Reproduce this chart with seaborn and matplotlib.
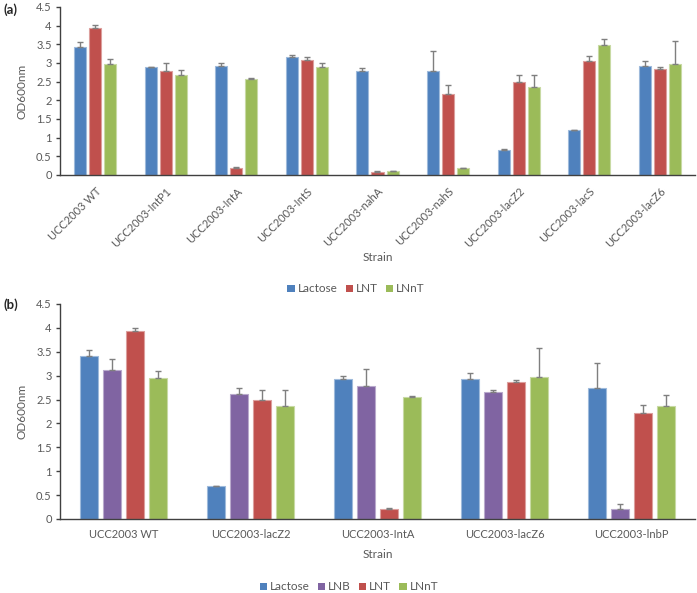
import numpy as np
import pandas as pd
import matplotlib
matplotlib.use('Agg')
import matplotlib.pyplot as plt
from matplotlib.patches import Patch
from matplotlib.colors import to_rgb
import seaborn as sns

sns.set_style('white')
plt.rcParams['font.family'] = ['Lato', 'DejaVu Sans']

# panel (a)
strains_a = ['UCC2003 WT', 'UCC2003-IntP1', 'UCC2003-IntA', 'UCC2003-IntS', 'UCC2003-nahA',
             'UCC2003-nahS', 'UCC2003-lacZ2', 'UCC2003-lacS', 'UCC2003-lacZ6']
lactose_a = [3.42, 2.89, 2.91, 3.15, 2.78, 2.79, 0.68, 1.20, 2.93]
lactose_a_err = [0.13, 0.01, 0.09, 0.07, 0.09, 0.54, 0.01, 0.01, 0.12]
lnt_a = [3.95, 2.78, 0.20, 3.07, 0.08, 2.17, 2.48, 3.05, 2.85]
lnt_a_err = [0.06, 0.22, 0.01, 0.10, 0.02, 0.23, 0.21, 0.13, 0.04]
lnnt_a = [2.97, 2.67, 2.57, 2.89, 0.10, 0.19, 2.36, 3.47, 2.98]
lnnt_a_err = [0.13, 0.13, 0.02, 0.11, 0.01, 0.01, 0.33, 0.18, 0.62]

# panel (b)
strains_b = ['UCC2003 WT', 'UCC2003-lacZ2', 'UCC2003-IntA', 'UCC2003-lacZ6', 'UCC2003-lnbP']
lactose_b = [3.42, 0.69, 2.92, 2.94, 2.74]
lactose_b_err = [0.12, 0.01, 0.07, 0.12, 0.52]
lnb_b = [3.11, 2.61, 2.78, 2.66, 0.20]
lnb_b_err = [0.23, 0.14, 0.35, 0.05, 0.11]
lnt_b = [3.94, 2.49, 0.20, 2.86, 2.21]
lnt_b_err = [0.06, 0.22, 0.02, 0.04, 0.18]
lnnt_b = [2.95, 2.37, 2.55, 2.98, 2.37]
lnnt_b_err = [0.14, 0.32, 0.03, 0.60, 0.22]

colors = {'Lactose': '#4F81BD', 'LNB': '#8064A2', 'LNT': '#C0504D', 'LNnT': '#9BBB59'}
text_col = '#595959'


def lighter(c, f=0.45):
    r = np.array(to_rgb(c))
    return tuple(r + (1 - r) * f)


def panel(ax, strains, series, errs, width, gap, rotate):
    rows = []
    for name, vals in series.items():
        for s, v in zip(strains, vals):
            rows.append({'Strain': s, 'Sugar': name, 'OD': v})
    df = pd.DataFrame(rows)
    names = list(series.keys())
    sns.barplot(data=df, x='Strain', y='OD', hue='Sugar', hue_order=names,
                palette=[colors[n] for n in names], errorbar=None, saturation=1,
                width=width, gap=gap, legend=False, ax=ax, linewidth=0)
    for cont, n in zip(ax.containers, names):
        xs, ys = [], []
        for bar in cont:
            bar.set_edgecolor(lighter(colors[n]))
            bar.set_linewidth(0.8)
            xs.append(bar.get_x() + bar.get_width() / 2)
            ys.append(bar.get_height())
        e = errs[n]
        ax.errorbar(xs, ys, yerr=[np.zeros(len(e)), e], fmt='none',
                    ecolor='#7F7F7F', elinewidth=1.0, capsize=2.5, capthick=1.0)
    ax.set_ylim(0, 4.5)
    ax.set_yticks(np.arange(0, 4.51, 0.5))
    ax.set_yticklabels(['%g' % v for v in np.arange(0, 4.51, 0.5)])
    ax.set_xlim(-0.5, len(strains) - 0.5)
    sns.despine(ax=ax)
    ax.spines['left'].set_color('#404040')
    ax.spines['bottom'].set_color('#404040')
    ax.spines['left'].set_linewidth(1.0)
    ax.spines['bottom'].set_linewidth(1.0)
    ax.tick_params(axis='y', left=True, length=3, width=1, color='#404040',
                   labelsize=8, labelcolor=text_col, pad=3)
    ax.tick_params(axis='x', bottom=False, labelsize=8, labelcolor=text_col, pad=4)
    if rotate:
        plt.setp(ax.get_xticklabels(), rotation=45, ha='right', rotation_mode='anchor')
    ax.set_ylabel('OD600nm', fontsize=8.5, color=text_col, labelpad=6)
    ax.set_xlabel('Strain', fontsize=8.5, color=text_col)
    ax.xaxis.label.set_va('center')
    handles = [Patch(facecolor=colors[n], edgecolor='none', label=n) for n in names]
    return handles


fig = plt.figure(figsize=(6.97, 5.93), dpi=100)
ax1 = fig.add_axes([0.0861, 0.7049, 0.911, 0.2833])
ax2 = fig.add_axes([0.0861, 0.1248, 0.911, 0.3626])

h1 = panel(ax1, strains_a, {'Lactose': lactose_a, 'LNT': lnt_a, 'LNnT': lnnt_a},
           {'Lactose': lactose_a_err, 'LNT': lnt_a_err, 'LNnT': lnnt_a_err},
           width=0.64, gap=0.2, rotate=True)
ax1.xaxis.set_label_coords(0.501, -0.49)

h2 = panel(ax2, strains_b, {'Lactose': lactose_b, 'LNB': lnb_b, 'LNT': lnt_b, 'LNnT': lnnt_b},
           {'Lactose': lactose_b_err, 'LNB': lnb_b_err, 'LNT': lnt_b_err, 'LNnT': lnnt_b_err},
           width=0.72, gap=0.21, rotate=False)
ax2.xaxis.set_label_coords(0.501, -0.163)

leg_kw = dict(frameon=False, handlelength=0.6, handleheight=0.6, handletextpad=0.25,
              columnspacing=0.7, fontsize=8.5, labelcolor=text_col)
fig.legend(handles=h1, ncol=3, loc='center', bbox_to_anchor=(356 / 697, 1 - 289 / 593), **leg_kw)
fig.legend(handles=h2, ncol=4, loc='center', bbox_to_anchor=(349 / 697, 1 - 587 / 593), **leg_kw)

fig.text(3 / 697, 1 - 10 / 593, '(a)', fontsize=9.5, fontweight='bold', va='center', ha='left')
fig.text(3 / 697, 1 - 305 / 593, '(b)', fontsize=9.5, fontweight='bold', va='center', ha='left')

fig.savefig('out.png', dpi=100)
